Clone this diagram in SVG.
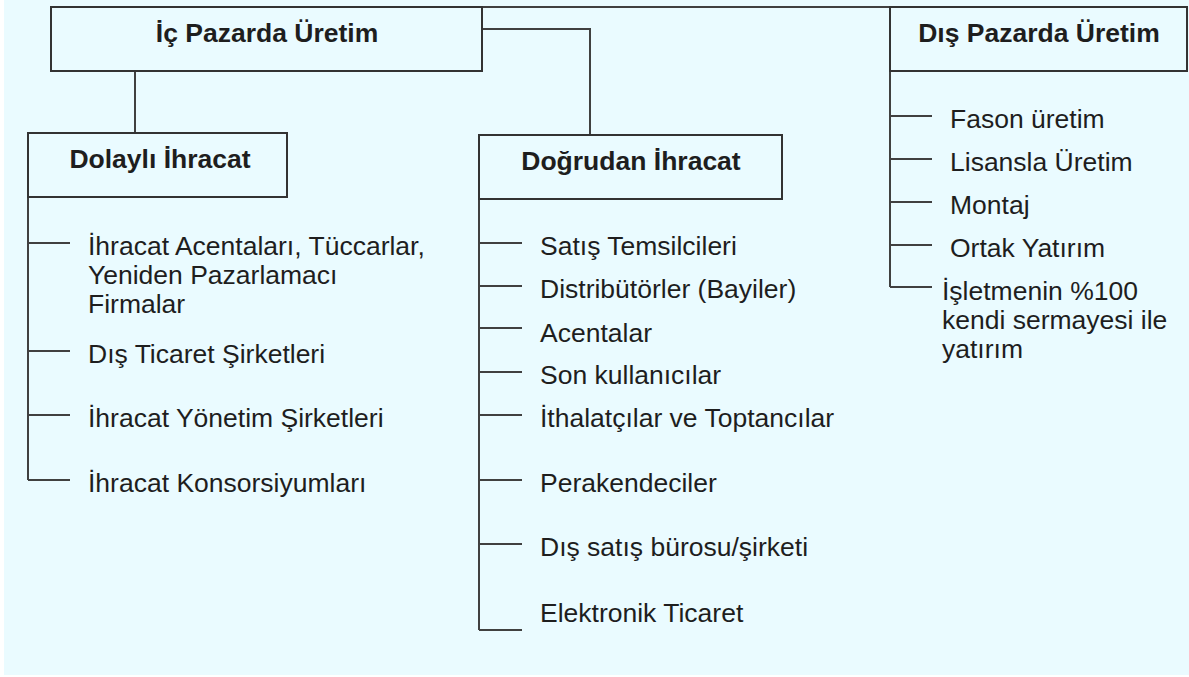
<svg xmlns="http://www.w3.org/2000/svg" width="1189" height="677" viewBox="0 0 1189 677">
<style>
.box{fill:#EAFBFF;stroke:#333333;stroke-width:2}
.ln{fill:none;stroke:#404040;stroke-width:2}
.t{font-family:"Liberation Sans",Arial,sans-serif;font-size:26.5px;fill:#1e1e1e}
.b{font-family:"Liberation Sans",Arial,sans-serif;font-size:26.5px;font-weight:bold;fill:#1e1e1e;text-anchor:middle}
</style>
<rect x="0" y="0" width="1189" height="677" fill="#ffffff"/>
<rect x="4" y="0" width="1185" height="675" fill="#EAFBFF"/>
<g id="connectors">
<path class="ln" d="M482,7 H890"/>
<path class="ln" d="M135,71 V133"/>
<path class="ln" d="M482,29 H590 V135"/>
<path class="ln" d="M28,197 V480 M28,243 H70 M28,351 H70 M28,415 H70 M28,480 H70"/>
<path class="ln" d="M479,199 V630 M479,243 H522 M479,286 H522 M479,328 H522 M479,372 H522 M479,415 H522 M479,480 H522 M479,544 H522 M479,630 H522"/>
<path class="ln" d="M890,71 V287 M890,116 H932 M890,159 H932 M890,202 H932 M890,245 H932 M890,287 H932"/>
</g>
<g id="ic-pazarda">
<rect class="box" x="51" y="7" width="431" height="64"/>
<text class="b" x="267" y="42">İç Pazarda Üretim</text>
</g>
<g id="dis-pazarda">
<rect class="box" x="890" y="7" width="297" height="64"/>
<text class="b" x="1039" y="42">Dış Pazarda Üretim</text>
</g>
<g id="dolayli">
<rect class="box" x="28" y="133" width="259" height="64"/>
<text class="b" x="160" y="168">Dolaylı İhracat</text>
</g>
<g id="dogrudan">
<rect class="box" x="479" y="135" width="303" height="64"/>
<text class="b" x="631" y="170">Doğrudan İhracat</text>
</g>
<g id="dolayli-items">
<text class="t" x="88" y="255">İhracat Acentaları, Tüccarlar,</text>
<text class="t" x="88" y="284">Yeniden Pazarlamacı</text>
<text class="t" x="88" y="313">Firmalar</text>
<text class="t" x="88" y="363">Dış Ticaret Şirketleri</text>
<text class="t" x="88" y="427">İhracat Yönetim Şirketleri</text>
<text class="t" x="88" y="492">İhracat Konsorsiyumları</text>
</g>
<g id="dogrudan-items">
<text class="t" x="540" y="255">Satış Temsilcileri</text>
<text class="t" x="540" y="298">Distribütörler (Bayiler)</text>
<text class="t" x="540" y="342">Acentalar</text>
<text class="t" x="540" y="384">Son kullanıcılar</text>
<text class="t" x="540" y="427">İthalatçılar ve Toptancılar</text>
<text class="t" x="540" y="492">Perakendeciler</text>
<text class="t" x="540" y="556">Dış satış bürosu/şirketi</text>
<text class="t" x="540" y="622">Elektronik Ticaret</text>
</g>
<g id="dis-items">
<text class="t" x="950" y="128">Fason üretim</text>
<text class="t" x="950" y="171">Lisansla Üretim</text>
<text class="t" x="950" y="214">Montaj</text>
<text class="t" x="950" y="257">Ortak Yatırım</text>
<text class="t" x="942" y="300">İşletmenin %100</text>
<text class="t" x="942" y="329">kendi sermayesi ile</text>
<text class="t" x="942" y="358">yatırım</text>
</g>
</svg>
